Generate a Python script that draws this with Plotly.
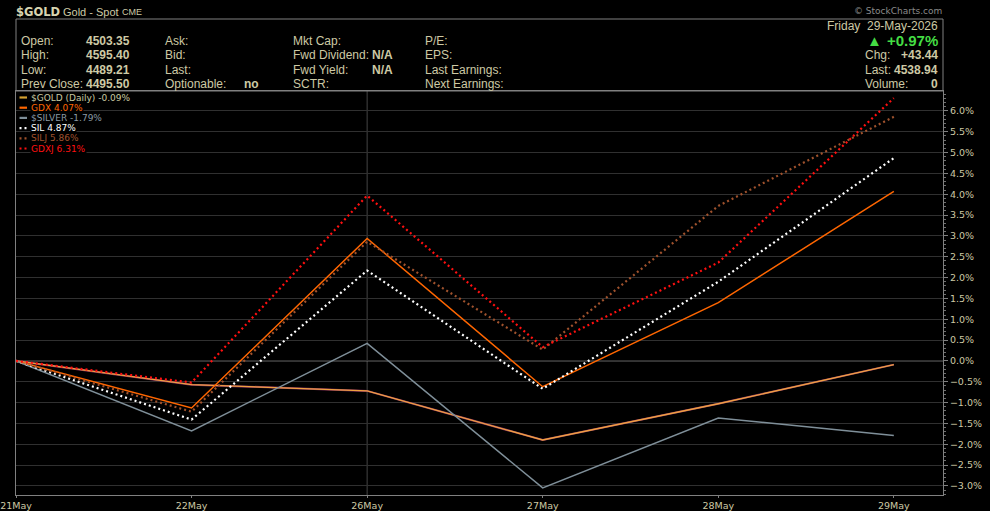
import plotly.graph_objects as go

# percent change since 21 May
dates = ["21May", "22May", "26May", "27May", "28May", "29May"]
gold = [0, -0.57, -0.72, -1.90, -1.03, -0.09]
gdx = [0, -1.13, 2.94, -0.62, 1.40, 4.07]
silver = [0, -1.68, 0.42, -3.05, -1.37, -1.79]
sil = [0, -1.41, 2.17, -0.67, 1.90, 4.87]
silj = [0, -1.22, 2.86, 0.27, 3.72, 5.86]
gdxj = [0, -0.52, 3.97, 0.33, 2.36, 6.31]

series_names = ["$GOLD (Daily)", "GDX", "$SILVER", "SIL", "SILJ", "GDXJ"]
series_values = [gold, gdx, silver, sil, silj, gdxj]
series_colors = ["#eea040", "#ff6600", "#7f8f99", "#ffffff", "#a0522d", "#ff1010"]
legend_text_colors = ["#c8c8a0", "#ff6600", "#8a9aa4", "#ffffff", "#a0522d", "#ff1010"]
series_dash = ["solid", "solid", "solid", "2px,3px", "2px,3px", "2px,3px"]
series_width = [1.4, 1.5, 1.5, 2.2, 2.2, 2.2]

header_rows = [
    [("Open:", "4503.35"), ("Ask:", ""), ("Mkt Cap:", ""), ("P/E:", "")],
    [("High:", "4595.40"), ("Bid:", ""), ("Fwd Dividend:", "N/A"), ("EPS:", "")],
    [("Low:", "4489.21"), ("Last:", ""), ("Fwd Yield:", "N/A"), ("Last Earnings:", "")],
    [("Prev Close:", "4495.50"), ("Optionable:", "no"), ("SCTR:", ""), ("Next Earnings:", "")],
]

W, H = 990, 511
PL, PR, PT, PB = 16, 943, 91, 495
TXT = "#cdc9a5"
GRID = "#303030"
AXIS = "#808080"


def px(x):
    return (x - PL) / (PR - PL)


def py(y):
    return (PB - y) / (PB - PT)


fig = go.Figure()

# gold line has a purple-ish edge in the original
fig.add_trace(go.Scatter(x=dates, y=gold, mode="lines", line=dict(color="#8a3060", width=2.0),
                         hoverinfo="skip", showlegend=False))

for name, vals, col, dash, w in zip(series_names, series_values, series_colors, series_dash, series_width):
    fig.add_trace(go.Scatter(x=dates, y=vals, mode="lines", name=name,
                             line=dict(color=col, width=w, dash=dash), showlegend=False))

# week separator
fig.add_vline(x=2, line=dict(color="#454545", width=1), layer="below")
# zero line
fig.add_hline(y=0, line=dict(color="#8a8a8a", width=1), layer="below")

ann = []
shapes = []


def text(x, y, s, size=12, color=TXT, bold=False, anchor="left", family="Liberation Sans, Arial"):
    if bold:
        s = "<b>" + s + "</b>"
    ann.append(dict(x=px(x), y=py(y), xref="paper", yref="paper", text=s, showarrow=False,
                    xanchor=anchor, yanchor="middle", borderpad=0,
                    font=dict(size=size, color=color, family=family)))


# title line
text(15, 12, "$GOLD", size=11.5, bold=True, family="DejaVu Sans", color="#d8d4b0")
text(62, 12, "Gold - Spot", size=11)
text(121, 12.5, "CME", size=9)
text(943, 11.5, "\u00a9 StockCharts.com", size=9, color="#8a8a8a", anchor="right", family="DejaVu Sans")

# header box
shapes.append(dict(type="rect", xref="paper", yref="paper", x0=0, x1=1, y0=1, y1=py(19),
                   line=dict(color=AXIS, width=1)))

col_x = [20, 164, 292, 424]
val_x = [85, 243, 371, None]
row_y = [41, 55, 70, 84]
for r, row in enumerate(header_rows):
    for c, (lab, val) in enumerate(row):
        text(col_x[c], row_y[r], lab, size=12)
        if val:
            text(val_x[c], row_y[r], val, size=12, bold=True)

text(939, 26, "Friday  29-May-2026", size=12, anchor="right")
text(866, 41, "\u25b2", size=15, color="#44dd44")
text(939, 41, "+0.97%", size=15, color="#44dd44", bold=True, anchor="right")
text(864, 55, "Chg:", size=12)
text(939, 55, "+43.44", size=12, bold=True, anchor="right")
text(864, 70, "Last:", size=12)
text(939, 70, "4538.94", size=12, bold=True, anchor="right")
text(864, 84, "Volume:", size=12)
text(939, 84, "0", size=12, bold=True, anchor="right")

# legend, built by hand so each label can take its own colour
for i, (name, vals, col, tcol, dash) in enumerate(zip(series_names, series_values, series_colors,
                                                      legend_text_colors, series_dash)):
    yy = 97.5 + i * 10.2
    swatch = "#d4a030" if i == 0 else col
    shapes.append(dict(type="line", xref="paper", yref="paper", x0=px(19.5), x1=px(27), y0=py(yy), y1=py(yy),
                       line=dict(color=swatch, width=2.2, dash="2px,3px" if dash != "solid" else "solid")))
    label = "%s %.2f%%" % (name, vals[-1])
    ann.append(dict(x=px(29.5), y=py(yy), xref="paper", yref="paper", text=label, showarrow=False,
                    xanchor="left", yanchor="middle", bgcolor="black", borderpad=0,
                    font=dict(size=9, color=tcol, family="DejaVu Sans")))

fig.update_xaxes(type="category", range=[0, 5.28], showgrid=False, zeroline=False, automargin=False,
                 showline=True, linecolor=AXIS, linewidth=1, mirror=True,
                 ticks="outside", ticklen=2, tickcolor=AXIS,
                 tickfont=dict(size=9.5, color=TXT, family="DejaVu Sans"))
fig.update_yaxes(side="right", range=[-3.22, 6.48], tick0=0, dtick=0.5, tickformat=".1f", ticksuffix="%",
                 showgrid=True, gridcolor=GRID, gridwidth=1, zeroline=False, automargin=False,
                 showline=True, linecolor=AXIS, linewidth=1, mirror=True,
                 ticks="outside", ticklen=4, tickcolor=AXIS,
                 minor=dict(dtick=0.1, ticks="outside", ticklen=2, tickcolor="#707070", showgrid=False),
                 tickfont=dict(size=9.5, color=TXT, family="DejaVu Sans"))

fig.update_layout(
    width=W, height=H,
    margin=dict(l=PL, r=W - PR, t=PT, b=H - PB, autoexpand=False),
    plot_bgcolor="black",
    paper_bgcolor="black",
    showlegend=False,
    annotations=ann,
    shapes=list(fig.layout.shapes) + shapes,
)

# page body has a default 8px margin, drop it so the chart sits at the window corner
fig.write_html("out.html", config={"displayModeBar": False},
               post_script="document.body.style.margin='0';document.body.style.overflow='hidden';")
